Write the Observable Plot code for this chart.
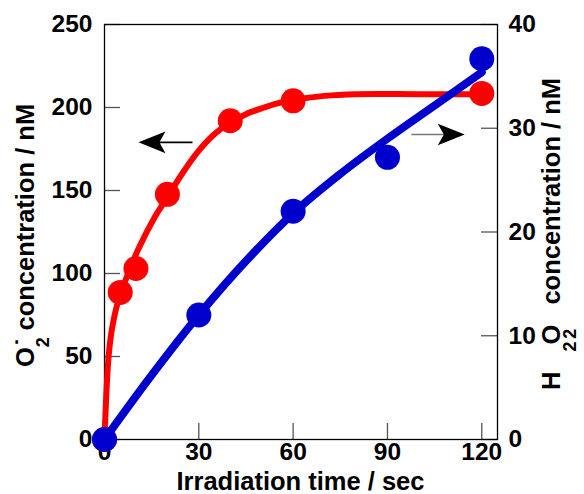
<!DOCTYPE html>
<html>
<head>
<meta charset="utf-8">
<script src="https://cdn.jsdelivr.net/npm/d3@7"></script>
<script src="https://cdn.jsdelivr.net/npm/@observablehq/plot@0.6"></script>
<style>
  html, body { margin: 0; padding: 0; background: #fff; }
  #chart { width: 584px; height: 494px; }
</style>
</head>
<body>
<div id="chart"></div>
<script>
// ---- data ----
const xTicks = [0, 30, 60, 90, 120];
const leftTicks = [0, 50, 100, 150, 200, 250];
const rightTicks = [0, 10, 20, 30, 40];

// O2·- measured points (left axis, nM)
const o2Time = [0, 5, 10, 20, 40, 60, 120];
const o2Conc = [0, 88.6, 103, 147.7, 192, 204, 208.5];
// O2·- fitted curve
const o2FitTime = [0, 0.3, 0.7, 1.3, 2, 2.9, 4, 5, 7.5, 10.85, 16, 20, 25, 30, 35, 40, 45, 50, 55, 60, 70, 80, 100, 120];
const o2FitConc = [0, 15, 32, 50, 62, 72, 81, 87, 100, 115, 134, 146, 161, 174, 184, 191, 196, 199.5, 202.5, 204.5, 207, 208, 208, 208];

// H2O2 measured points (right axis, nM)
const h2Time = [0, 30, 60, 90, 120];
const h2Conc = [0, 12, 22, 27.2, 36.7];
// H2O2 fitted curve
const h2FitTime = [0, 15, 30, 45, 60, 75, 90, 105, 120];
const h2FitConc = [0, 6.2, 12, 17.2, 21.8, 25.6, 29, 32.2, 35.4];

// annotation arrows (x in sec, y in left-axis units)
const arrowDir = ["left", "right"];
const arrowFromX = [28, 97.6];
const arrowHeadX = [15.1, 110.3];
const arrowY = [179, 183.7];
const arrowLineColor = ["#000", "#777"];

const ratio = 250 / 40; // right axis -> left axis units

const o2Pts = o2Time.map((t, i) => ({t, v: o2Conc[i]}));
const o2Fit = o2FitTime.map((t, i) => ({t, v: o2FitConc[i]}));
const h2Pts = h2Time.map((t, i) => ({t, v: h2Conc[i] * ratio}));
const h2Fit = h2FitTime.map((t, i) => ({t, v: h2FitConc[i] * ratio}));
const arrows = arrowDir.map((d, i) => ({dir: d, x1: arrowFromX[i], x2: arrowHeadX[i], y: arrowY[i], color: arrowLineColor[i]}));

function stealth(dirSign) {
  return {
    draw(ctx, size) {
      const r = Math.sqrt(size / Math.PI);
      const s = dirSign;
      ctx.moveTo(s * r, 0);
      ctx.lineTo(-s * r, 0.8 * r);
      ctx.lineTo(-s * 0.55 * r, 0);
      ctx.lineTo(-s * r, -0.8 * r);
      ctx.closePath();
    }
  };
}

const FONT = "'Liberation Sans', Arial, Helvetica, sans-serif";
const W = 584, H = 494, ML = 104, MR = 87, MT = 24, MB = 55;
const fw = W - ML - MR, fh = H - MT - MB;
const tickLen = 16;
const RED = "#ff0000", BLUE = "#0000cc";
const TICKFONT = 24.5;

const chart = Plot.plot({
  width: W, height: H,
  marginLeft: ML, marginRight: MR, marginTop: MT, marginBottom: MB,
  x: {domain: [0, 125]},
  y: {domain: [0, 250]},
  style: {fontFamily: FONT, fontWeight: "bold", fontSize: TICKFONT + "px", color: "#000", background: "#fff"},
  marks: [
    Plot.tickX(xTicks, {x: d => d, insetTop: fh - tickLen, stroke: "#555", strokeWidth: 1.3}),
    Plot.tickY(leftTicks, {y: d => d, insetRight: fw - tickLen, stroke: "#555", strokeWidth: 1.3}),
    Plot.tickY(rightTicks, {y: d => d * ratio, insetLeft: fw - tickLen, stroke: "#555", strokeWidth: 1.3}),
    Plot.frame({stroke: "#000", strokeWidth: 1.3}),
    Plot.axisX(xTicks, {tickSize: 0, tickPadding: 3, fontSize: TICKFONT, label: null}),
    Plot.axisY(leftTicks, {anchor: "left", tickSize: 0, tickPadding: 12, fontSize: TICKFONT, label: null}),
    Plot.axisY(rightTicks.map(d => d * ratio), {anchor: "right", tickSize: 0, tickPadding: 11, fontSize: TICKFONT, tickFormat: d => String(Math.round(d / ratio)), label: null}),
    // arrows
    Plot.link(arrows, {x1: "x1", x2: "x2", y1: "y", y2: "y", stroke: "color", strokeWidth: 1.6}),
    Plot.dot(arrows.filter(a => a.dir === "left"), {x: "x2", y: "y", r: 13.5, symbol: stealth(-1), fill: "#000", stroke: "none"}),
    Plot.dot(arrows.filter(a => a.dir === "right"), {x: "x2", y: "y", r: 13.5, symbol: stealth(1), fill: "#000", stroke: "none"}),
    // O2·-
    Plot.line(o2Fit, {x: "t", y: "v", stroke: RED, strokeWidth: 6, curve: "catmull-rom"}),
    Plot.dot(o2Pts, {x: "t", y: "v", r: 12.5, fill: RED, stroke: "none"}),
    // H2O2
    Plot.line(h2Fit, {x: "t", y: "v", stroke: BLUE, strokeWidth: 8, curve: "catmull-rom"}),
    Plot.dot(h2Pts, {x: "t", y: "v", r: 12.5, fill: BLUE, stroke: "none"})
  ]
});

document.getElementById("chart").appendChild(chart);

// axis titles
const svg = d3.select(chart);
const TF = 25.5, SUB = 18;

svg.append("text")
  .attr("x", ML + fw / 2).attr("y", 490)
  .attr("text-anchor", "middle")
  .attr("font-family", FONT).attr("font-weight", "bold").attr("font-size", TF)
  .attr("fill", "#000")
  .text("Irradiation time / sec");

const lt = svg.append("text")
  .attr("transform", "translate(34,367) rotate(-90)")
  .attr("text-anchor", "start")
  .attr("font-family", FONT).attr("font-weight", "bold").attr("font-size", TF)
  .attr("fill", "#000");
lt.append("tspan").text("O");
lt.append("tspan").attr("dy", 15).attr("font-size", SUB).text("2");
lt.append("tspan").attr("dx", -9).attr("dy", -15).text("\u02D9");
lt.append("tspan").text(" concentration / nM");

const rt = svg.append("text")
  .attr("transform", "translate(560,390) rotate(-90)")
  .attr("text-anchor", "start")
  .attr("font-family", FONT).attr("font-weight", "bold").attr("font-size", TF)
  .attr("fill", "#000");
rt.append("tspan").text("H");
rt.append("tspan").attr("dx", 20).attr("dy", 16).attr("font-size", SUB).text("2");
rt.append("tspan").attr("dx", -3).attr("dy", -16).text("O");
rt.append("tspan").attr("dx", -14).attr("dy", 16).attr("font-size", SUB).text("2");
rt.append("tspan").attr("dx", 17).attr("dy", -16).text(" concentration / nM");
</script>
</body>
</html>
